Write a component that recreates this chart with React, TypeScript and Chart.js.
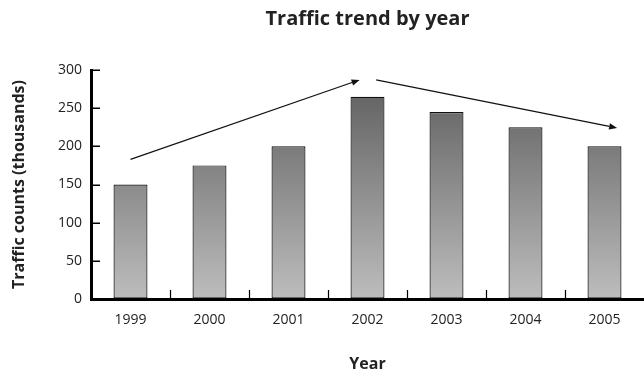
import React, { useEffect, useRef } from "react";
import { Chart, registerables } from "chart.js";

Chart.register(...registerables);

const years = ["1999", "2000", "2001", "2002", "2003", "2004", "2005"];
const trafficCounts = [150, 175, 200, 265, 245, 225, 200];
const yMin = 0;
const yMax = 300;
const yStep = 50;
// trend arrows: [categoryIndex, value]
const arrowFrom = [
  [0, 183],
  [3.11, 287],
];
const arrowTo = [
  [2.9, 287],
  [6.16, 224],
];

const chartTitle = "Traffic trend by year";
const yTitle = "Traffic counts (thousands)";
const xTitle = "Year";
const FONT = "'Open Sans', 'DejaVu Sans', sans-serif";

const decorPlugin = {
  id: "decor",
  afterDraw(chart: any) {
    const { ctx, chartArea, scales } = chart;
    const xs = scales.x;
    const ys = scales.y;
    ctx.save();
    // title
    ctx.fillStyle = "#222";
    ctx.font = `bold 20px ${FONT}`;
    ctx.textAlign = "center";
    ctx.textBaseline = "middle";
    ctx.fillText(chartTitle, (chartArea.left + chartArea.right) / 2, 19);

    // y inner ticks
    ctx.strokeStyle = "#000";
    ctx.lineWidth = 1.5;
    ys.ticks.forEach((t: any) => {
      if (t.value === yMin) return;
      const y = Math.round(ys.getPixelForValue(t.value)) + 0.25;
      ctx.beginPath();
      ctx.moveTo(chartArea.left, y);
      ctx.lineTo(chartArea.left + 9, y);
      ctx.stroke();
    });
    // x category boundary ticks
    ctx.lineWidth = 1.2;
    for (let i = 0; i < years.length - 1; i++) {
      const x = Math.round((xs.getPixelForValue(i) + xs.getPixelForValue(i + 1)) / 2) + 0.5;
      ctx.beginPath();
      ctx.moveTo(x, chartArea.bottom);
      ctx.lineTo(x, chartArea.bottom - 9);
      ctx.stroke();
    }

    // arrows
    const pos = (p: number[]) => {
      const c0 = xs.getPixelForValue(0);
      const c1 = xs.getPixelForValue(1);
      return [c0 + (c1 - c0) * p[0], ys.getPixelForValue(p[1])];
    };
    ctx.strokeStyle = "#111";
    ctx.fillStyle = "#111";
    ctx.lineWidth = 1.2;
    for (let i = 0; i < arrowFrom.length; i++) {
      const [x1, y1] = pos(arrowFrom[i]);
      const [x2, y2] = pos(arrowTo[i]);
      const ang = Math.atan2(y2 - y1, x2 - x1);
      const L = 8;
      const W = 3.2;
      const bx = x2 - L * Math.cos(ang);
      const by = y2 - L * Math.sin(ang);
      ctx.beginPath();
      ctx.moveTo(x1, y1);
      ctx.lineTo(bx, by);
      ctx.stroke();
      ctx.beginPath();
      ctx.moveTo(x2, y2);
      ctx.lineTo(bx + W * Math.sin(ang), by - W * Math.cos(ang));
      ctx.lineTo(bx - W * Math.sin(ang), by + W * Math.cos(ang));
      ctx.closePath();
      ctx.fill();
    }
    ctx.restore();
  },
};

export default function App() {
  const ref = useRef<HTMLCanvasElement | null>(null);
  useEffect(() => {
    document.body.style.margin = "0";
    const canvas = ref.current!;
    const chart = new Chart(canvas, {
      type: "bar",
      data: {
        labels: years,
        datasets: [
          {
            data: trafficCounts,
            backgroundColor: (c: any) => {
              const area = c.chart.chartArea;
              if (!area) return "#888";
              const g = c.chart.ctx.createLinearGradient(0, area.top, 0, area.bottom);
              g.addColorStop(0, "#5a5a5a");
              g.addColorStop(1, "#bdbdbd");
              return g;
            },
            borderColor: "#111",
            borderWidth: 1.2,
            borderSkipped: false,
            categoryPercentage: 1,
            barPercentage: 0.43,
          },
        ],
      },
      options: {
        responsive: false,
        animation: false,
        devicePixelRatio: 1,
        layout: { padding: { top: 70, right: 0, bottom: 0, left: 0 } },
        plugins: {
          legend: { display: false },
          tooltip: { enabled: false },
          title: { display: false },
        },
        scales: {
          x: {
            offset: true,
            grid: { display: true, drawOnChartArea: false, drawTicks: false },
            border: { display: true, color: "#000", width: 3 },
            ticks: { color: "#222", font: { family: FONT, size: 14 }, padding: 13 },
            title: {
              display: true,
              text: xTitle,
              color: "#222",
              font: { family: FONT, size: 16, weight: "bold" },
              padding: { top: 0, bottom: 0 },
            },
            afterFit: (s: any) => {
              s.height = 75;
            },
          },
          y: {
            min: yMin,
            max: yMax,
            grid: { display: true, drawOnChartArea: false, drawTicks: false },
            border: { display: true, color: "#000", width: 3 },
            ticks: {
              stepSize: yStep,
              color: "#222",
              font: { family: FONT, size: 14 },
              padding: 9,
            },
            title: {
              display: true,
              text: yTitle,
              color: "#222",
              font: { family: FONT, size: 16, weight: "bold" },
              padding: { top: 10, bottom: 0 },
            },
            afterFit: (s: any) => {
              s.width = 91;
            },
          },
        },
      },
      plugins: [decorPlugin],
    } as any);
    return () => chart.destroy();
  }, []);
  return (
    <div style={{ position: "fixed", left: 0, top: 0, width: 644, height: 374 }}>
      <canvas ref={ref} width={644} height={374} style={{ width: 644, height: 374 }} />
    </div>
  );
}
